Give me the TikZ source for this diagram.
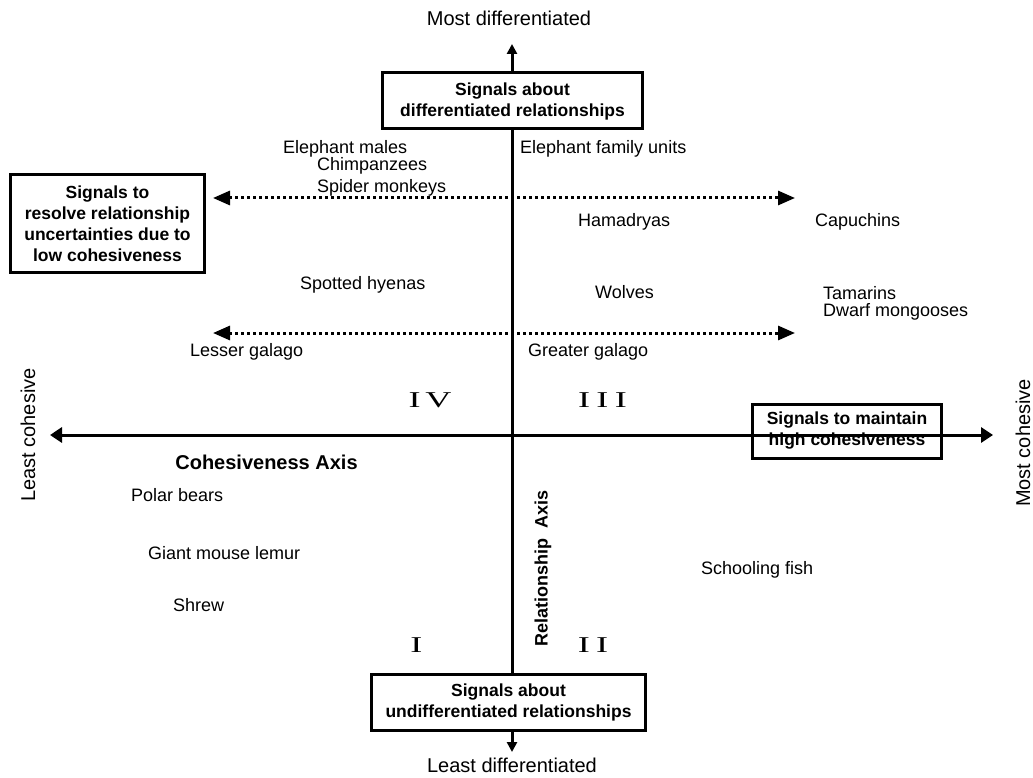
\documentclass[tikz,border=0pt]{standalone}
\usepackage{fontspec}
\setmainfont{Liberation Sans}
\newfontfamily\romanfont{Liberation Serif}
\usetikzlibrary{arrows.meta}
\tikzset{
  lab/.style={font=\fontsize{18}{21}\selectfont, anchor=base west, inner sep=0pt},
  axlab/.style={font=\fontsize{20}{24}\selectfont, inner sep=0pt},
  sigbox/.style={draw, line width=3pt, align=center, inner sep=0pt,
                 font=\fontsize{17.5}{21}\bfseries\selectfont},
  axisline/.style={line width=3pt},
  dotarrow/.style={line width=3pt, dash pattern=on 3pt off 3pt,
                   {Triangle[length=17pt,width=14pt]}-{Triangle[length=17pt,width=14pt]}},
  smalltip/.style={-{Triangle[length=10pt,width=10pt]}},
  quad/.style={font=\romanfont\fontsize{22.6}{24}\selectfont, anchor=base, inner sep=0pt},
}
\newcommand{\wideroman}[1]{\scalebox{1.6}[1]{#1}}
\begin{document}
\begin{tikzpicture}[x=1pt,y=-1pt]
\useasboundingbox (0,0) rectangle (1033,778);

% axis end points
\coordinate (vtop) at (512,44);
\coordinate (vbot) at (512,752);
\coordinate (hl) at (50,435);
\coordinate (hr) at (993,435);
\coordinate (d1l) at (213,198);
\coordinate (d1r) at (795,198);
\coordinate (d2l) at (213,333);
\coordinate (d2r) at (795,333);

% boxes
\node[sigbox, fill=white, minimum width=260pt, minimum height=56pt] (topbox) at (512.5,101)
  {Signals about\\differentiated relationships};
\node[sigbox, fill=white, minimum width=274pt, minimum height=56pt] (botbox) at (508.5,702.5)
  {Signals about\\undifferentiated relationships};
\node[sigbox, fill=white, minimum width=194pt, minimum height=98pt] (leftbox) at (107.5,223.5)
  {Signals to\\resolve relationship\\uncertainties due to\\low cohesiveness};

% dotted arrows
\draw[dotarrow] (d1l) -- (d1r);
\draw[dotarrow] (d2l) -- (d2r);

% horizontal axis
\draw[axisline, {Triangle[length=12pt,width=15pt]}-{Triangle[length=12pt,width=15pt]}] (hl) -- (hr);
\node[sigbox, minimum width=189pt, minimum height=54pt] (rightbox) at (847,431)
  {Signals to maintain\\high cohesiveness};

% vertical axis
\draw[axisline] (vtop |- topbox.south) -- (vtop |- botbox.north);
\draw[axisline, smalltip] (vtop |- topbox.north) -- (vtop);
\draw[axisline, smalltip] (vtop |- botbox.south) -- (vbot);

% axis end labels
\node[axlab] (mostdiff) at (509,18) {Most differentiated};
\node[axlab] (leastdiff) at (512,765) {Least differentiated};
\node[axlab, rotate=90] (leastcoh) at (28,435) {Least cohesive};
\node[axlab, rotate=90] (mostcoh) at (1023,443) {Most cohesive};

% axis names
\node[inner sep=0pt, font=\fontsize{20}{24}\bfseries\selectfont] (cohaxis) at (266.5,462) {Cohesiveness Axis};
\node[inner sep=0pt, rotate=90, font=\fontsize{18}{21}\bfseries\selectfont] (relaxis) at (543,568) {Relationship\ \ Axis};

% quadrant numerals
\node[quad] (q4) at (430,407) {\wideroman{I\hspace{3pt}V}};
\node[quad] (q3) at (602.5,407) {\wideroman{I\hspace{4pt}I\hspace{4pt}I}};
\node[quad] (q1) at (416.5,652) {\wideroman{I}};
\node[quad] (q2) at (593,652) {\wideroman{I\hspace{4pt}I}};

% species
\node[lab] (elm) at (283,154) {Elephant males};
\node[lab] (chimp) at (317,171) {Chimpanzees};
\node[lab] (spider) at (317,193) {Spider monkeys};
\node[lab] (elfam) at (520,154) {Elephant family units};
\node[lab] (hama) at (578,226) {Hamadryas};
\node[lab] (capu) at (815,226) {Capuchins};
\node[lab] (hyena) at (300,289) {Spotted hyenas};
\node[lab] (wolves) at (595,298) {Wolves};
\node[lab] (tama) at (823,299) {Tamarins};
\node[lab] (dwarf) at (823,316) {Dwarf mongooses};
\node[lab] (lesser) at (190,356) {Lesser galago};
\node[lab] (greater) at (528,356) {Greater galago};
\node[lab] (polar) at (131,501) {Polar bears};
\node[lab] (lemur) at (148,559) {Giant mouse lemur};
\node[lab] (shrew) at (173,611) {Shrew};
\node[lab] (fish) at (701,574) {Schooling fish};
\end{tikzpicture}
\end{document}
